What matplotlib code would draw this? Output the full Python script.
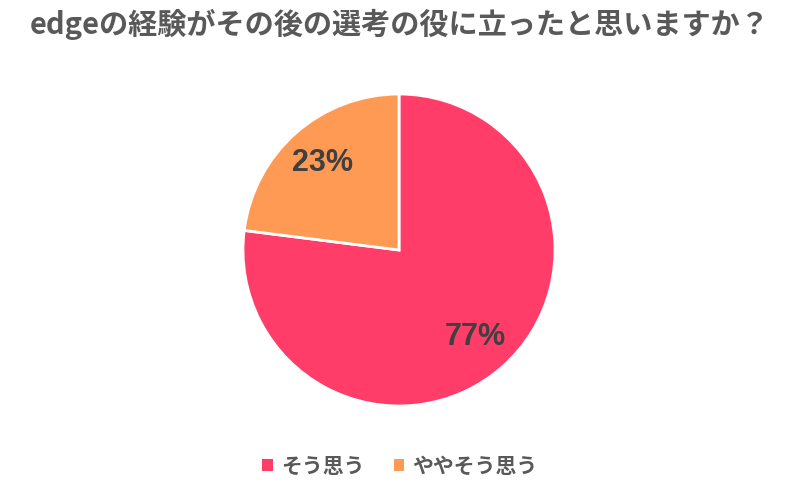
import matplotlib.pyplot as plt
from matplotlib.patches import Patch

plt.rcParams['font.family'] = ['Noto Sans CJK JP', 'DejaVu Sans']

title = 'edgeの経験がその後の選考の役に立ったと思いますか？'
labels = ['そう思う', 'ややそう思う']
values = [77, 23]
colors = ['#FF3D68', '#FF9A55']
text_color = '#404040'

fig = plt.figure(figsize=(8, 4.88), dpi=100)
ax = fig.add_axes([243 / 800, 82 / 488, 312 / 800, 312 / 488])

wedges, _, autotexts = ax.pie(
    values,
    colors=colors,
    startangle=90,
    counterclock=False,
    autopct='%d%%',
    pctdistance=0.74,
    wedgeprops=dict(edgecolor='white', linewidth=2),
    radius=1,
)
for t in autotexts:
    t.set_fontfamily('Liberation Sans')
    t.set_fontweight('bold')
    t.set_fontsize(22)
    t.set_color(text_color)

ax.set_xlim(-1, 1)
ax.set_ylim(-1, 1)
ax.set_aspect('equal')

fig.text(0.5, 1 - 24 / 488, title, ha='center', va='center',
         fontsize=21, fontweight='bold', color='#595959')

handles = [Patch(facecolor=c, edgecolor='none') for c in colors]
leg = fig.legend(handles, labels, loc='center', bbox_to_anchor=(0.5, 1 - 466 / 488),
                 ncol=2, frameon=False, handlelength=0.5, handleheight=0.5,
                 handletextpad=0.4, columnspacing=1.4,
                 prop={'family': ['Noto Sans CJK JP', 'DejaVu Sans'], 'weight': 'bold', 'size': 15})
for t in leg.get_texts():
    t.set_color('#595959')

fig.savefig('out.png', dpi=100)
